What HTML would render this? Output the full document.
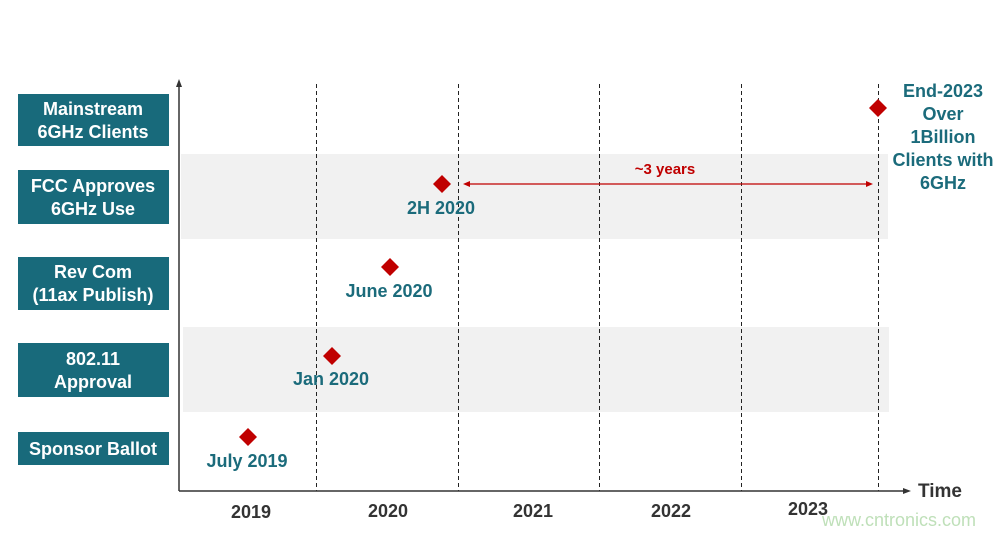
<!DOCTYPE html>
<html><head><meta charset="utf-8"><style>
html,body{margin:0;padding:0;background:#fff;}
svg{display:block;font-family:"Liberation Sans",Arial,sans-serif;}
</style></head><body>
<svg width="1007" height="534" viewBox="0 0 1007 534" xmlns="http://www.w3.org/2000/svg">
<rect width="1007" height="534" fill="#fff"/>
<rect x="181" y="154" width="707" height="85" fill="#f1f1f1"/>
<rect x="183" y="327" width="706" height="85" fill="#f1f1f1"/>
<g stroke="#222" stroke-width="1" stroke-dasharray="4,3" shape-rendering="crispEdges">
<line x1="316.5" y1="84" x2="316.5" y2="491"/>
<line x1="458.5" y1="84" x2="458.5" y2="491"/>
<line x1="599.5" y1="84" x2="599.5" y2="491"/>
<line x1="741.5" y1="84" x2="741.5" y2="491"/>
<line x1="878.5" y1="84" x2="878.5" y2="491"/>
</g>
<line x1="179" y1="84" x2="179" y2="491" stroke="#333" stroke-width="1.5"/>
<polygon points="179,79 176,87 182,87" fill="#333"/>
<line x1="179" y1="491" x2="905" y2="491" stroke="#333" stroke-width="1.5"/>
<polygon points="911,491 903,488 903,494" fill="#333"/>
<text x="918" y="497" font-size="19" font-weight="bold" fill="#333">Time</text>
<g fill="#186a7b">
<rect x="18" y="94" width="151" height="52"/>
<rect x="18" y="170" width="151" height="54"/>
<rect x="18" y="257" width="151" height="53"/>
<rect x="18" y="343" width="151" height="54"/>
<rect x="18" y="432" width="151" height="33"/>
</g>
<g fill="#fff" font-size="18" font-weight="bold" text-anchor="middle">
<text x="93" y="115">Mainstream</text><text x="93" y="138">6GHz Clients</text>
<text x="93" y="192">FCC Approves</text><text x="93" y="215">6GHz Use</text>
<text x="93" y="278">Rev Com</text><text x="93" y="301">(11ax Publish)</text>
<text x="93" y="365">802.11</text><text x="93" y="388">Approval</text>
<text x="93" y="455">Sponsor Ballot</text>
</g>
<g fill="#c00000">
<polygon points="878,99 887,108 878,117 869,108"/>
<polygon points="442,175 451,184 442,193 433,184"/>
<polygon points="390,258 399,267 390,276 381,267"/>
<polygon points="332,347 341,356 332,365 323,356"/>
<polygon points="248,428 257,437 248,446 239,437"/>
</g>
<line x1="468" y1="184" x2="868" y2="184" stroke="#c00000" stroke-width="1.3"/>
<polygon points="463,184 470,181 470,187" fill="#c00000"/>
<polygon points="873,184 866,181 866,187" fill="#c00000"/>
<text x="665" y="174" font-size="15" font-weight="bold" fill="#c00000" text-anchor="middle">~3 years</text>
<g fill="#1b6b7b" font-size="18" font-weight="bold" text-anchor="middle">
<text x="441" y="214">2H 2020</text>
<text x="389" y="297">June 2020</text>
<text x="331" y="385">Jan 2020</text>
<text x="247" y="467">July 2019</text>
<text x="943" y="97">End-2023</text>
<text x="943" y="120">Over</text>
<text x="943" y="143">1Billion</text>
<text x="943" y="166">Clients with</text>
<text x="943" y="189">6GHz</text>
</g>
<g fill="#333" font-size="18" font-weight="bold" text-anchor="middle">
<text x="251" y="518">2019</text>
<text x="388" y="517">2020</text>
<text x="533" y="517">2021</text>
<text x="671" y="517">2022</text>
<text x="808" y="515">2023</text>
</g>
<text x="822" y="526" font-size="18" fill="#bfe0b9">www.cntronics.com</text>
</svg>
</body></html>
